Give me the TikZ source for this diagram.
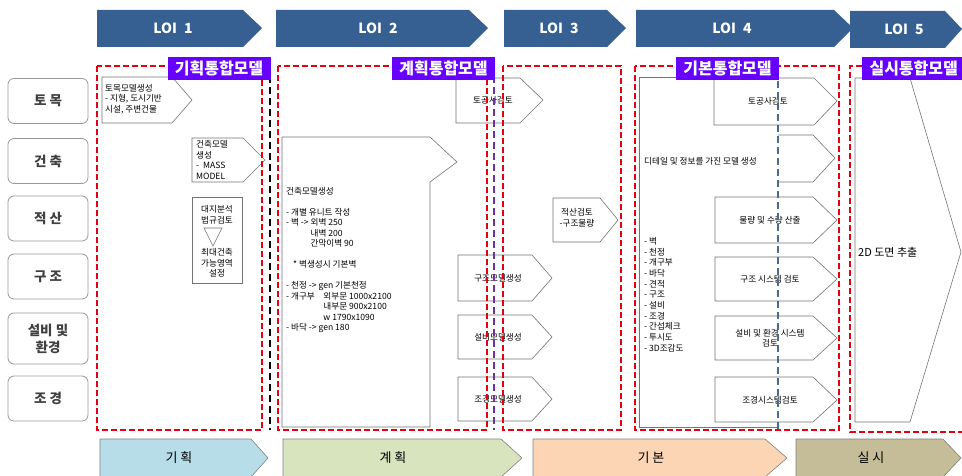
\documentclass[tikz,border=0pt]{standalone}
\usepackage{fontspec}
\setmainfont{Noto Sans CJK KR}
\definecolor{loiblue}{HTML}{376092}
\definecolor{zonered}{HTML}{E60012}
\definecolor{lblpurple}{HTML}{6600FF}
\definecolor{divblue}{HTML}{4A6A8E}
\definecolor{divpurple}{HTML}{7030A0}
\definecolor{phaseplan}{HTML}{B7DEE8}
\definecolor{phaseschem}{HTML}{D7E4BD}
\definecolor{phasebasic}{HTML}{FCD5B5}
\definecolor{phasedet}{HTML}{C4BD97}
\tikzset{
    loitext/.style={text=white, font=\bfseries\fontsize{14}{16}\selectfont},
    rowbox/.style={rectangle, rounded corners=6pt, draw=gray!80, line width=0.8pt, minimum width=80pt, minimum height=45pt, align=center, text=black!75, font=\bfseries\fontsize{13.5}{17}\selectfont},
    zone/.style={draw=zonered, line width=2.4pt, dash pattern=on 6pt off 3pt},
    divider/.style={dash pattern=on 7pt off 4pt},
    mlabel/.style={fill=lblpurple, text=white, inner sep=1pt, minimum width=103pt, minimum height=23pt, font=\bfseries\fontsize{16}{18}\selectfont},
    stepshape/.style={draw=gray!90!black, line width=0.6pt, fill=white},
    note/.style={align=left, inner sep=0pt, font=\fontsize{8.6}{10.5}\selectfont},
    cnote/.style={align=center, inner sep=0pt, font=\fontsize{8.6}{10.5}\selectfont},
    phase/.style={draw=gray, line width=0.6pt},
    phasetext/.style={font=\fontsize{13}{15}\selectfont},
}
\begin{document}
\begin{tikzpicture}[x=1pt,y=-1pt]
    \useasboundingbox (0,0) rectangle (962,476);
    % LOI arrows
    \fill[loiblue] (97,10) -- (243,10) -- (262,28) -- (243,47) -- (97,47) -- cycle;
    \fill[loiblue] (276,10) -- (469,10) -- (488,28) -- (469,47) -- (276,47) -- cycle;
    \fill[loiblue] (504,10) -- (607,10) -- (626,28) -- (607,47) -- (504,47) -- cycle;
    \fill[loiblue] (636,10) -- (834,10) -- (853,28) -- (834,47) -- (636,47) -- cycle;
    \fill[loiblue] (850,11) -- (945,11) -- (962,29) -- (945,48) -- (850,48) -- cycle;
    \node[loitext] (loi1) at (173,28) {LOI\hspace{7pt}1};
    \node[loitext] (loi2) at (378,28) {LOI\hspace{7pt}2};
    \node[loitext] (loi3) at (559,28) {LOI\hspace{7pt}3};
    \node[loitext] (loi4) at (732,28) {LOI\hspace{7pt}4};
    \node[loitext] (loi5) at (904,29) {LOI\hspace{7pt}5};
    % rows
    \node[rowbox] (civil) at (48,101) {토 목};
    \node[rowbox] (arch) at (48,161) {건 축};
    \node[rowbox] (cost) at (48,218.5) {적 산};
    \node[rowbox] (struct) at (48,276.5) {구 조};
    \node[rowbox, minimum height=51pt] (mep) at (48,338.5) {설비 및\\환경};
    \node[rowbox] (land) at (48,398.5) {조 경};
    % LOI 1
    \draw[stepshape] (102,77) -- (172,77) -- (192,100) -- (172,123) -- (102,123) -- cycle;
    \node[note, anchor=west] (civmodel) at (105,99) {토목모델생성\\- 지형, 도시기반\\시설, 주변건물};
    \draw[stepshape] (192,138) -- (243,138) -- (265,160) -- (243,182) -- (192,182) -- cycle;
    \node[note, anchor=west] (massmodel) at (196,160) {건축모델\\생성\\-\ \ MASS\\MODEL};
    \draw[stepshape] (192,197) rectangle (242,283);
    \node[cnote] (siteana) at (217,215) {대지분석\\법규검토};
    \draw[stepshape] (204,228) -- (222,228) -- (213,246) -- cycle;
    \node[cnote] (maxarea) at (217,263) {최대건축\\가능영역\\설정};
    % LOI 2
    \draw[stepshape] (282,137) -- (430,137) -- (457,162) -- (430,182) -- (430,427) -- (282,427) -- cycle;
    \node[note, anchor=north west] (archmodel) at (286,187) {건축모델생성\\\mbox{}\\- 개별 유니트 작성\\- 벽 -> 외벽 250\\\phantom{- 벽 -> }내벽 200\\\phantom{- 벽 -> }간막이벽 90\\\mbox{}\\\hspace{7pt}* 벽생성시 기본벽\\\mbox{}\\- 천정 -> gen 기본천정\\- 개구부\quad 외부문 1000x2100\\\phantom{- 개구부\quad }내부문 900x2100\\\phantom{- 개구부\quad}w 1790x1090\\- 바닥 -> gen 180};
    \draw[stepshape] (456,78) -- (520,78) -- (543,100) -- (520,123) -- (456,123) -- cycle;
    \node[cnote] (civcheck2) at (493,100) {토공사검토};
    \draw[stepshape] (458,255) -- (532,255) -- (552,278) -- (532,301) -- (458,301) -- cycle;
    \node[cnote] (structmodel) at (498,278) {구조모델생성};
    \draw[stepshape] (458,315) -- (532,315) -- (552,337) -- (532,359) -- (458,359) -- cycle;
    \node[cnote] (mepmodel) at (498,337) {설비모델생성};
    \draw[stepshape] (458,377) -- (532,377) -- (552,399) -- (532,421) -- (458,421) -- cycle;
    \node[cnote] (landmodel) at (498,399) {조경모델생성};
    % LOI 3
    \draw[stepshape] (553,198) -- (600,198) -- (618,220) -- (600,242) -- (553,242) -- cycle;
    \node[cnote] (costcheck) at (577,218) {적산검토\\-구조물량};
    % LOI 4
    \draw[stepshape] (778,77) -- (639,77) -- (639,427) -- (778,427);
    \node[note, anchor=west] (detail) at (644,161) {디테일 및 정보를 가진 모델 생성};
    \node[note, anchor=north west, font=\fontsize{8.6}{10.7}\selectfont] (items) at (644,237) {- 벽\\- 천정\\- 개구부\\- 바닥\\- 견적\\- 구조\\- 설비\\- 조경\\- 간섭체크\\- 투시도\\- 3D조감도};
    \draw[stepshape] (714,78) -- (814,78) -- (837,101) -- (814,125) -- (714,125) -- cycle;
    \node[cnote] (civcheck4) at (768,101) {토공사검토};
    \draw[stepshape] (778,135) -- (813,135) -- (835,158) -- (813,182) -- (778,182);
    \draw[stepshape] (715,197) -- (813,197) -- (837,220) -- (813,243) -- (715,243) -- cycle;
    \node[cnote] (qty) at (770,220) {물량 및 수량 산출};
    \draw[stepshape] (715,257) -- (813,257) -- (837,279) -- (813,301) -- (715,301) -- cycle;
    \node[cnote] (structsys) at (770,279) {구조 시스템 검토};
    \draw[stepshape] (715,316) -- (813,316) -- (837,338) -- (813,360) -- (715,360) -- cycle;
    \node[cnote] (mepsys) at (770,338) {설비 및 환경 시스템\\검토};
    \draw[stepshape] (715,377) -- (813,377) -- (837,400) -- (813,422) -- (715,422) -- cycle;
    \node[cnote] (landsys) at (770,400) {조경시스템검토};
    % LOI 5
    \draw[stepshape] (855,78) -- (910,78) -- (961,252) -- (910,422) -- (855,422) -- cycle;
    \node[note, anchor=west, font=\fontsize{11}{13}\selectfont] (drawings) at (858,252) {2D 도면 추출};
    % zones and dividers
    \draw[zone] (97,66) rectangle (262,430);
    \draw[zone] (278,66) rectangle (487,430);
    \draw[zone] (503,66) rectangle (621,430);
    \draw[zone] (635,66) rectangle (839,430);
    \draw[zone] (970,66) -- (850,66) -- (850,432) -- (970,432);
    \draw[divider, black, line width=2.8pt] (270,76) -- (270,430);
    \draw[divider, divpurple, line width=2pt] (494,76) -- (494,430);
    \draw[divider, divblue, line width=1.8pt] (778,70) -- (778,430);
    % model labels
    \node[mlabel] (planlbl) at (219,68.5) {기획통합모델};
    \node[mlabel] (schemlbl) at (443.5,68.5) {계획통합모델};
    \node[mlabel] (basiclbl) at (727.5,68.5) {기본통합모델};
    \node[mlabel, anchor=west] (detlbl) at (862,68.5) {실시통합모델};
    % phases
    \draw[phase, fill=phaseplan] (100,439) -- (251,439) -- (268,458) -- (251,477) -- (100,477) -- cycle;
    \node[phasetext] (plan) at (179,458) {기 획};
    \draw[phase, fill=phaseschem] (283,439) -- (501,439) -- (522,458) -- (501,477) -- (283,477) -- cycle;
    \node[phasetext] (schem) at (393,458) {계 획};
    \draw[phase, fill=phasebasic] (533,439) -- (765,439) -- (787,458) -- (765,477) -- (533,477) -- cycle;
    \node[phasetext] (basic) at (651,458) {기 본};
    \draw[phase, fill=phasedet] (796,439) -- (943,439) -- (961,458) -- (943,477) -- (796,477) -- cycle;
    \node[phasetext] (det) at (871,458) {실 시};
\end{tikzpicture}
\end{document}
